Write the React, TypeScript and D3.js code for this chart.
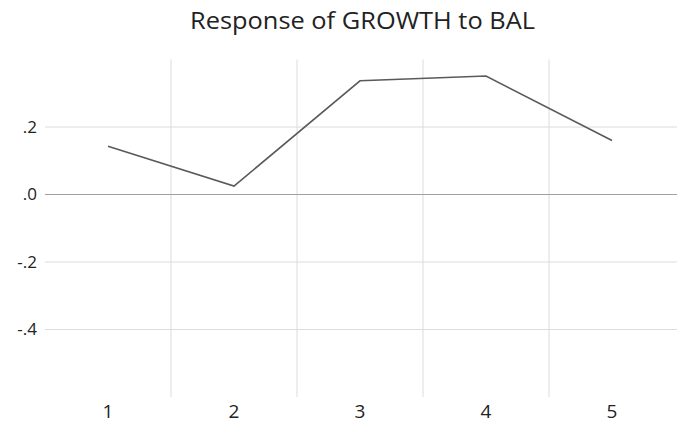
import { useEffect, useRef } from 'react';
import * as d3 from 'd3';

const periods = ['1', '2', '3', '4', '5'];
const response = [0.143, 0.025, 0.337, 0.351, 0.16];
const yTicks = [0.2, 0.0, -0.2, -0.4];
const chartTitle = 'Response of GROWTH to BAL';

const App = () => {
  const ref = useRef<SVGSVGElement | null>(null);

  useEffect(() => {
    const width = 685;
    const height = 436;
    const left = 45;
    const right = 677;

    const svg = d3.select(ref.current);
    svg.selectAll('*').remove();
    svg.attr('width', width).attr('height', height);

    const x = d3.scaleBand().domain(periods).range([left, left + 126 * 5]);
    const y = d3.scaleLinear().domain([-0.6, 0.4]).range([397, 59.5]);

    // vertical grid between periods
    svg
      .selectAll('line.vgrid')
      .data(periods.slice(1))
      .enter()
      .append('line')
      .attr('class', 'vgrid')
      .attr('x1', (d) => x(d)!)
      .attr('x2', (d) => x(d)!)
      .attr('y1', y(0.4))
      .attr('y2', y(-0.6))
      .attr('stroke', '#dcdcdc')
      .attr('stroke-width', 1);

    svg
      .selectAll('line.hgrid')
      .data(yTicks)
      .enter()
      .append('line')
      .attr('class', 'hgrid')
      .attr('x1', left)
      .attr('x2', right)
      .attr('y1', (d) => y(d))
      .attr('y2', (d) => y(d))
      .attr('stroke', (d) => (d === 0 ? '#a0a0a0' : '#dcdcdc'))
      .attr('stroke-width', 1);

    // EViews style: ".2", ".0", "-.2" with a plain hyphen
    const fmt = (d: number) =>
      d === 0 ? '.0' : (d < 0 ? '-' : '') + d3.format('.1f')(Math.abs(d)).replace('0.', '.');

    svg
      .selectAll('text.ylab')
      .data(yTicks)
      .enter()
      .append('text')
      .attr('class', 'ylab')
      .attr('x', 37)
      .attr('y', (d) => y(d))
      .attr('dy', '0.35em')
      .attr('text-anchor', 'end')
      .style('font-family', '"Open Sans", sans-serif')
      .style('font-size', '17px')
      .attr('fill', '#222')
      .text(fmt);

    svg
      .selectAll('text.xlab')
      .data(periods)
      .enter()
      .append('text')
      .attr('class', 'xlab')
      .attr('x', (d) => x(d)! + x.bandwidth() / 2)
      .attr('y', 418)
      .attr('text-anchor', 'middle')
      .style('font-family', '"Open Sans", sans-serif')
      .style('font-size', '19px')
      .attr('fill', '#222')
      .text((d) => d);

    const line = d3
      .line<number>()
      .x((_, i) => x(periods[i])! + x.bandwidth() / 2)
      .y((d) => y(d));

    svg
      .append('path')
      .datum(response)
      .attr('d', line)
      .attr('fill', 'none')
      .attr('stroke', '#5a5a5a')
      .attr('stroke-width', 1.6);

    svg
      .append('text')
      .attr('x', 362.5)
      .attr('y', 29)
      .attr('text-anchor', 'middle')
      .attr('textLength', 345)
      .attr('lengthAdjust', 'spacingAndGlyphs')
      .style('font-family', '"Open Sans", sans-serif')
      .style('font-size', '23px')
      .attr('fill', '#222')
      .text(chartTitle);
  }, []);

  return <svg ref={ref} style={{ position: 'absolute', left: 0, top: 0 }} />;
};

export default App;
